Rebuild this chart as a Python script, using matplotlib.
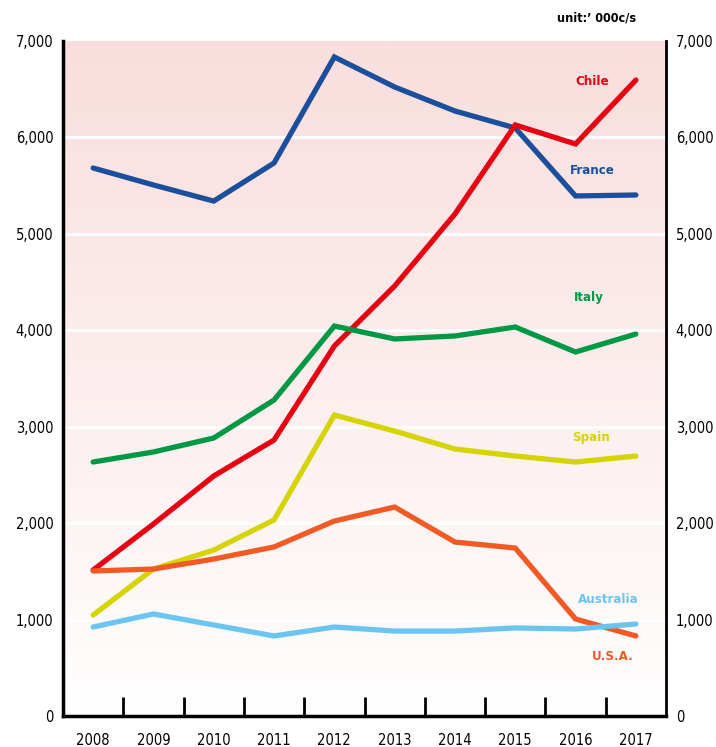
import matplotlib.pyplot as plt
import numpy as np

years = [2008, 2009, 2010, 2011, 2012, 2013, 2014, 2015, 2016, 2017]
france = [5683, 5507, 5340, 5735, 6834, 6523, 6274, 6098, 5393, 5403]
chile = [1514, 1991, 2489, 2862, 3837, 4459, 5206, 6129, 5932, 6595]
italy = [2634, 2738, 2883, 3277, 4044, 3910, 3941, 4034, 3775, 3961]
spain = [1047, 1524, 1721, 2033, 3121, 2955, 2769, 2696, 2634, 2696]
usa = [1504, 1524, 1628, 1753, 2022, 2167, 1804, 1742, 1006, 830]
australia = [923, 1058, 944, 830, 923, 881, 881, 913, 902, 954]
yticks = [0, 1000, 2000, 3000, 4000, 5000, 6000, 7000]

plt.rcParams['font.family'] = 'DejaVu Sans'
plt.rcParams['font.stretch'] = 'condensed'

fig = plt.figure(figsize=(7.16, 7.47), dpi=100)
ax = fig.add_axes([63 / 716, 1 - 716 / 747, 603 / 716, 675 / 747])

ax.set_xlim(2007.5, 2017.5)
ax.set_ylim(0, 7000)

# pink-to-white background
grad = np.linspace(0, 1, 256).reshape(-1, 1)
top = np.array([249, 222, 221]) / 255
bot = np.array([255, 254, 254]) / 255
img = bot + (top - bot) * grad
ax.imshow(img[:, None, :].repeat(2, axis=1), extent=[2007.5, 2017.5, 0, 7000],
          origin='lower', aspect='auto', zorder=0)

for v in yticks[1:-1]:
    ax.axhline(v, color='white', lw=2, zorder=1)

series = [
    (france, '#1b4f9c', 'France', 2016.27, 5660),
    (chile, '#e60012', 'Chile', 2016.27, 6580),
    (italy, '#009844', 'Italy', 2016.22, 4335),
    (spain, '#d6d400', 'Spain', 2016.25, 2893),
    (usa, '#f15a24', 'U.S.A.', 2016.62, 612),
    (australia, '#6cc5f0', 'Australia', 2016.55, 1213),
]
for vals, col, name, tx, ty in series:
    ax.plot(years, vals, color=col, lw=3.8, solid_capstyle='round',
            solid_joinstyle='miter', zorder=3)
    ax.text(tx, ty, name, color=col, fontsize=9.5, fontweight='bold',
            ha='center', va='center')

ax.set_xticks(years)
ax.set_xticklabels([str(y) for y in years], fontsize=10.5)
ax.tick_params(axis='x', which='major', length=0, pad=12)
ax.set_xticks(np.arange(2008.5, 2017, 1), minor=True)
ax.tick_params(axis='x', which='minor', direction='in', length=14, width=2, color='black')

ax.set_yticks(yticks)
ax.set_yticklabels([f'{v:,}' for v in yticks], fontsize=10.5)
ax.tick_params(axis='y', length=0, pad=7, labelright=True, labelleft=True)

ax.spines['top'].set_visible(False)
ax.spines['left'].set_linewidth(2.5)
ax.spines['right'].set_linewidth(2)
ax.spines['bottom'].set_linewidth(2.5)
for s in ax.spines.values():
    s.set_zorder(5)

fig.text(597 / 716, 1 - 18 / 747, 'unit:’ 000c/s', fontsize=9, fontweight='bold',
         ha='center', va='center')

fig.savefig('out.png', dpi=100)
